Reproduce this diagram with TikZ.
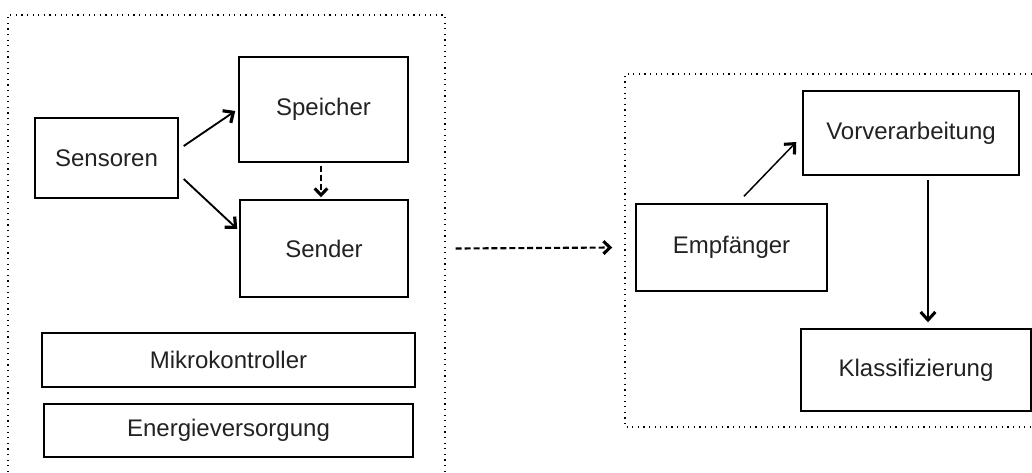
\documentclass[tikz,border=0pt]{standalone}
\usepackage{fontspec}
\setmainfont{Liberation Sans}
\usetikzlibrary{arrows.meta,calc}
\definecolor{txt}{HTML}{222222}
\tikzset{
  box/.style={draw=black, line width=1.1pt, rectangle, inner sep=0pt, text=txt,
    font=\fontsize{18}{21}\selectfont},
  frame/.style={line width=1pt, dash pattern=on 0.9pt off 3.3pt},
  conn/.style={line width=1.4pt, -{Straight Barb[length=6pt,width=11pt,line width=2.4pt]}},
  thinconn/.style={line width=1.1pt, -{Straight Barb[length=6pt,width=11pt,line width=2.3pt]}},
  dconn/.style={line width=1.6pt, dash pattern=on 4.5pt off 2.2pt, -{Straight Barb[length=5pt,width=9.5pt,line width=2.3pt]}}
}
\begin{document}
\begin{tikzpicture}[x=0.75pt,y=-0.75pt]
\useasboundingbox (0,0) rectangle (1032,472);
% frames
\draw[frame] (8,472) -- (8,15) -- (445,15) -- (445,472);
\draw[frame] (1032,74) -- (625,74) -- (625,427) -- (1032,427);
% left nodes
\node[box, minimum width=107.25pt, minimum height=60pt] (sens) at (106.5,158) {Sensoren};
\node[box, minimum width=126.75pt, minimum height=78.75pt] (spei) at (323.5,109.5) {Speicher};
\node[box, minimum width=126pt, minimum height=72.75pt] (send) at (324,248.5) {Sender};
\node[box, minimum width=279.75pt, minimum height=40.5pt] (mikro) at (228.5,360) {Mikrokontroller};
\node[box, minimum width=276.75pt, minimum height=39.75pt] (energ) at (228.5,430.5) {Energieversorgung};
% right nodes
\node[box, minimum width=162pt, minimum height=63pt] (vorv) at (911,133) {Vorverarbeitung};
\node[box, minimum width=143.25pt, minimum height=65.25pt] (empf) at (731.5,247.5) {Empfänger};
\node[box, minimum width=172.5pt, minimum height=61.5pt] (klass) at (916,370) {Klassifizierung};
% connectors
\draw[conn] ($(sens.east)+(5,-12)$) -- ($(spei.west)+(-3,1.5)$);
\draw[conn] ($(sens.east)+(5,21)$) -- ($(send.west)+(-2,-19.5)$);
\draw[dconn] ($(spei.south)+(-2.5,3)$) -- ($(send.north)+(-3,-2)$);
\draw[dconn] ($(send.east)+(47,0)$) -- ($(empf.west)+(-23,0)$);
\draw[thinconn] ($(empf.north)+(12.5,-7)$) -- ($(vorv.west)+(-6,9)$);
\draw[thinconn] ($(vorv.south)+(17,4)$) -- ($(klass.north)+(12,-6)$);
\end{tikzpicture}
\end{document}
